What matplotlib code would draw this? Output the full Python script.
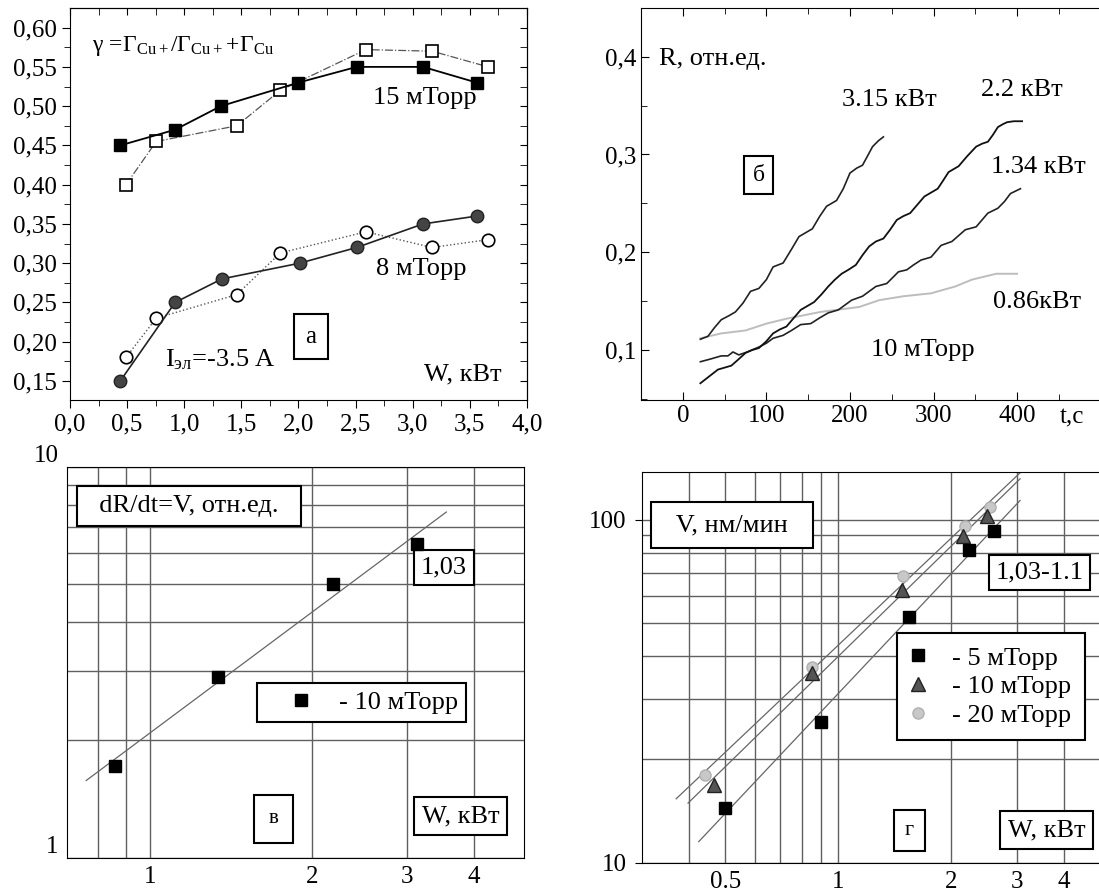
import numpy as np
import matplotlib
matplotlib.use("Agg")
import matplotlib.pyplot as plt
from matplotlib.ticker import FuncFormatter, MultipleLocator, FixedLocator, NullFormatter
from matplotlib.lines import Line2D

plt.rcParams['font.family'] = ['Liberation Serif', 'DejaVu Serif']
plt.rcParams['mathtext.fontset'] = 'custom'
plt.rcParams['mathtext.rm'] = 'Liberation Serif'
plt.rcParams['mathtext.it'] = 'Liberation Serif:italic'

# ---- panel a: gamma vs W ----
w15_fill = [0.44, 0.92, 1.32, 2.00, 2.51, 3.09, 3.56]
g15_fill = [0.450, 0.470, 0.500, 0.530, 0.550, 0.550, 0.530]
w15_open = [0.49, 0.755, 1.46, 1.84, 2.59, 3.17, 3.66]
g15_open = [0.400, 0.455, 0.475, 0.520, 0.572, 0.570, 0.550]
w8_fill = [0.44, 0.92, 1.33, 2.01, 2.51, 3.09, 3.56]
g8_fill = [0.150, 0.250, 0.280, 0.300, 0.320, 0.350, 0.360]
w8_open = [0.49, 0.755, 1.46, 1.84, 2.59, 3.17, 3.66]
g8_open = [0.180, 0.230, 0.260, 0.313, 0.340, 0.320, 0.330]

# ---- panel b: R(t) ----
t315 = [21, 30, 38, 46, 55, 63, 72, 81, 91, 100, 108, 120, 130, 139, 147, 155, 164, 172,
        184, 192, 200, 208, 215, 222, 227, 234, 240]
r315 = [0.111, 0.114, 0.123, 0.131, 0.135, 0.139, 0.148, 0.160, 0.163, 0.172, 0.185, 0.189,
        0.203, 0.216, 0.220, 0.224, 0.237, 0.247, 0.253, 0.265, 0.281, 0.286, 0.289, 0.300,
        0.308, 0.314, 0.318]
t22 = [21, 30, 42, 50, 58, 66, 75, 83, 91, 100, 108, 116, 124, 132, 141, 149, 157, 166, 174,
       182, 190, 198, 207, 215, 223, 231, 240, 248, 256, 264, 272, 280, 289, 297, 305, 312,
       318, 324, 330, 340, 351, 358, 365, 371, 377, 383, 388, 396, 406]
r22 = [0.066, 0.072, 0.080, 0.082, 0.084, 0.090, 0.097, 0.100, 0.102, 0.109, 0.117, 0.121,
       0.124, 0.132, 0.141, 0.145, 0.149, 0.157, 0.165, 0.172, 0.178, 0.182, 0.187, 0.197,
       0.206, 0.211, 0.214, 0.223, 0.233, 0.237, 0.240, 0.248, 0.257, 0.261, 0.265, 0.274,
       0.282, 0.285, 0.288, 0.298, 0.308, 0.311, 0.313, 0.320, 0.328, 0.331, 0.333, 0.334, 0.334]
t134 = [21, 34, 46, 54, 60, 67, 77, 91, 100, 108, 120, 130, 141, 153, 164, 174, 186, 194, 202,
        215, 223, 231, 244, 251, 258, 268, 276, 285, 297, 303, 309, 322, 330, 338, 351, 358,
        365, 377, 385, 392, 404]
r134 = [0.088, 0.091, 0.094, 0.094, 0.098, 0.095, 0.098, 0.103, 0.107, 0.112, 0.115, 0.120,
        0.126, 0.127, 0.133, 0.138, 0.141, 0.146, 0.151, 0.155, 0.160, 0.165, 0.168, 0.174,
        0.180, 0.182, 0.187, 0.192, 0.195, 0.201, 0.207, 0.211, 0.217, 0.223, 0.226, 0.233,
        0.240, 0.245, 0.252, 0.260, 0.265]
t086 = [21, 46, 75, 100, 124, 165, 211, 235, 264, 297, 326, 346, 375, 400]
r086 = [0.112, 0.117, 0.120, 0.127, 0.132, 0.139, 0.144, 0.151, 0.155, 0.158, 0.165, 0.172,
        0.178, 0.178]

# ---- panel v: dR/dt vs W, 10 mTorr ----
wv = [0.859, 1.336, 2.19, 3.13]
vv = [1.72, 2.89, 5.01, 6.33]
fit_v = [0.76, 3.55]

# ---- panel g: V vs W ----
w5 = [0.50, 0.90, 1.545, 2.23, 2.60]
v5 = [14.4, 25.8, 51.9, 81.8, 92.5]
w10 = [0.467, 0.854, 1.48, 2.15, 2.505]
v10 = [16.9, 35.7, 62.5, 89.4, 102.7]
w20 = [0.443, 0.854, 1.49, 2.18, 2.54]
v20 = [18.0, 37.3, 68.3, 95.6, 109.0]
fit_g = {'5': [0.425, 3.06], '10': [0.398, 3.06], '20': [0.37, 3.06]}


def box(pad):
    return dict(boxstyle=f'square,pad={pad}', fc='white', ec='black', lw=1.5)


comma = lambda d: FuncFormatter(lambda v, p: f'{v:.{d}f}'.replace('.', ','))
FS = 19

fig = plt.figure(figsize=(10.99, 8.94), dpi=100)

# ================= panel a =================
ax = fig.add_axes([0.0637, 0.5526, 0.4158, 0.4381])
ax.plot(w15_open, g15_open, ls='-.', color='#555555', lw=0.9, marker='s', ms=9,
        mfc='white', mec='black', mew=1.2)
ax.plot(w15_fill, g15_fill, ls='-', color='black', lw=1.3, marker='s', ms=9,
        mfc='black', mec='black')
ax.plot(w8_open, g8_open, ls=':', color='#555555', lw=1.0, marker='o', ms=9,
        mfc='white', mec='black', mew=1.2)
ax.plot(w8_fill, g8_fill, ls='-', color='#222222', lw=1.2, marker='o', ms=9,
        mfc='#444444', mec='#222222')
ax.set_xlim(0, 4)
ax.set_ylim(0.1258, 0.6246)
ax.xaxis.set_major_locator(MultipleLocator(0.5))
ax.xaxis.set_minor_locator(MultipleLocator(0.25))
ax.yaxis.set_major_locator(FixedLocator(np.arange(0.15, 0.601, 0.05)))
ax.yaxis.set_minor_locator(MultipleLocator(0.025))
ax.xaxis.set_major_formatter(comma(1))
ax.yaxis.set_major_formatter(comma(2))
ax.tick_params(which='both', direction='out', labelsize=18)
ax.tick_params(which='major', length=6)
ax.tick_params(which='minor', length=4)
secx = ax.secondary_xaxis('top')
secx.xaxis.set_major_locator(MultipleLocator(0.5))
secx.xaxis.set_minor_locator(MultipleLocator(0.25))
secx.tick_params(which='both', direction='in', labeltop=False, length=5)
secy = ax.secondary_yaxis('right')
secy.yaxis.set_major_locator(FixedLocator(np.arange(0.15, 0.601, 0.05)))
secy.yaxis.set_minor_locator(MultipleLocator(0.025))
secy.tick_params(which='both', direction='in', labelright=False, length=5)
ax.text(0.19, 0.576, r'$\mathrm{\gamma\ \!=\!\Gamma_{Cu+}/\Gamma_{Cu+}\!+\!\Gamma_{Cu}}$',
        fontsize=17, va='center')
ax.text(2.65, 0.51, '15 мТорр', fontsize=FS, va='center')
ax.text(2.68, 0.293, '8 мТорр', fontsize=FS, va='center')
ax.text(2.11, 0.2065, 'а', fontsize=18, ha='center', va='center', bbox=box(0.45))
ax.text(0.83, 0.177, r'$\mathrm{I_{эл}}$=-3.5 А', fontsize=19, va='center')
ax.text(3.1, 0.158, 'W, кВт', fontsize=FS, va='center')

# ================= panel b =================
ax = fig.add_axes([0.5833, 0.5526, 0.4167, 0.4381])
ax.plot(t086, r086, color='#bdbdbd', lw=1.4)
ax.plot(t134, r134, color='#222222', lw=1.2)
ax.plot(t22, r22, color='#111111', lw=1.3)
ax.plot(t315, r315, color='#222222', lw=1.2)
ax.set_xlim(-50, 498)
ax.set_ylim(0.0489, 0.4495)
ax.spines['right'].set_visible(False)
ax.set_xticks([0, 100, 200, 300, 400])
ax.xaxis.set_minor_locator(MultipleLocator(50))
ax.set_yticks([0.1, 0.2, 0.3, 0.4])
ax.yaxis.set_minor_locator(MultipleLocator(0.05))
ax.yaxis.set_major_formatter(comma(1))
ax.tick_params(which='both', direction='in', top=True, labelsize=18, length=6)
ax.tick_params(which='minor', length=4)
ax.text(451, -0.045, 't,c', fontsize=18, va='center',
        transform=ax.get_xaxis_transform())
ax.text(-28, 0.398, 'R, отн.ед.', fontsize=FS, va='center')
ax.text(190, 0.356, '3.15 кВт', fontsize=FS, va='center')
ax.text(357, 0.366, '2.2 кВт', fontsize=FS, va='center')
ax.text(369, 0.2875, '1.34 кВт', fontsize=FS, va='center')
ax.text(371, 0.149, '0.86кВт', fontsize=FS, va='center')
ax.text(225, 0.100, '10 мТорр', fontsize=FS, va='center')
ax.text(90.5, 0.279, 'б', fontsize=17, ha='center', va='center', bbox=box(0.35))

grid_kw = dict(color='#606060', lw=1.0)

# ================= panel v =================
ax = fig.add_axes([0.0610, 0.0406, 0.4158, 0.4374])
ax.set_xscale('log')
ax.set_yscale('log')
ax.set_xlim(0.7, 4.95)
ax.set_ylim(1, 10)
ax.set_xticks([1, 2, 3, 4])
ax.set_xticklabels(['1', '2', '3', '4'])
ax.set_xticks([0.8, 0.9], minor=True)
ax.set_yticks([1, 10])
ax.set_yticklabels(['1', '10'])
ax.set_yticks([2, 3, 4, 5, 6, 7, 8, 9], minor=True)
ax.xaxis.set_minor_formatter(NullFormatter())
ax.yaxis.set_minor_formatter(NullFormatter())
ax.tick_params(which='both', length=0, labelsize=18, pad=6)
for lab in ax.get_yticklabels():
    lab.set_verticalalignment('bottom')
ax.grid(True, which='both', **grid_kw)
ax.set_axisbelow(True)
k, b = np.polyfit(np.log10(wv), np.log10(vv), 1)
xs = np.array(fit_v)
ax.plot(xs, 10 ** b * xs ** k, color='#666666', lw=0.9)
ax.plot(wv, vv, ls='', marker='s', ms=9, color='black', zorder=5)
ax.text(0.267, 0.899, '  dR/dt=V, отн.ед.  ', fontsize=FS, ha='center', va='center',
        transform=ax.transAxes, bbox=box(0.35))
ax.text(0.825, 0.742, '1,03', fontsize=FS, ha='center', va='center',
        transform=ax.transAxes, bbox=box(0.25))
ax.text(0.451, 0.099, 'в', fontsize=15, ha='center', va='center',
        transform=ax.transAxes, bbox=box(0.7))
ax.text(0.861, 0.1066, 'W, кВт', fontsize=FS, ha='center', va='center',
        transform=ax.transAxes, bbox=box(0.3))
leg = ax.legend(handles=[Line2D([], [], ls='', marker='s', ms=9, color='black')],
                labels=['- 10 мТорр'], loc='upper left', bbox_to_anchor=(0.4158, 0.4468),
                borderaxespad=0, fontsize=FS, frameon=True, fancybox=False, framealpha=1,
                edgecolor='black', handletextpad=0.1, borderpad=0.3, handlelength=2.7)
leg.get_frame().set_linewidth(1.5)

# ================= panel g =================
ax = fig.add_axes([0.5842, 0.0350, 0.4158, 0.4374])
ax.set_xscale('log')
ax.set_yscale('log')
ax.set_xlim(0.3, 4.97)
ax.set_ylim(10, 138)
ax.spines['right'].set_visible(False)
ax.set_xticks([0.5, 1, 2, 3, 4])
ax.set_xticklabels(['0.5', '1', '2', '3', '4'])
ax.set_xticks([0.4, 0.6, 0.7, 0.8, 0.9], minor=True)
ax.set_yticks([10, 100])
ax.set_yticklabels(['10', '100'])
ax.set_yticks([20, 30, 40, 50, 60, 70, 80, 90], minor=True)
ax.xaxis.set_minor_formatter(NullFormatter())
ax.yaxis.set_minor_formatter(NullFormatter())
ax.tick_params(which='both', length=0, labelsize=18, pad=6)
ax.tick_params(axis='y', which='major', length=5)
ax.grid(True, which='both', **grid_kw)
ax.set_axisbelow(True)
for key, ws, vs in [('20', w20, v20), ('10', w10, v10), ('5', w5, v5)]:
    k, b = np.polyfit(np.log10(ws), np.log10(vs), 1)
    xs = np.array(fit_g[key])
    ax.plot(xs, 10 ** b * xs ** k, color='#666666', lw=0.9)
h20, = ax.plot(w20, v20, ls='', marker='o', ms=8, mfc='#c8c8c8', mec='#b0b0b0')
h10, = ax.plot(w10, v10, ls='', marker='^', ms=10, mfc='#555555', mec='#222222')
h5, = ax.plot(w5, v5, ls='', marker='s', ms=9, color='black')
ax.text(0.197, 0.863, '  V, нм/мин  ', fontsize=FS, ha='center', va='center',
        transform=ax.transAxes, bbox=box(0.45))
ax.text(0.870, 0.742, '1,03-1.1', fontsize=FS, ha='center', va='center',
        transform=ax.transAxes, bbox=box(0.25))
ax.text(0.585, 0.083, 'г', fontsize=16, ha='center', va='center',
        transform=ax.transAxes, bbox=box(0.5))
ax.text(0.885, 0.083, 'W, кВт', fontsize=FS, ha='center', va='center',
        transform=ax.transAxes, bbox=box(0.3))
leg = ax.legend(handles=[h5, h10, h20], labels=['- 5 мТорр', '- 10 мТорр', '- 20 мТорр'],
                loc='upper left', bbox_to_anchor=(0.558, 0.5875), borderaxespad=0,
                fontsize=FS, frameon=True, fancybox=False, framealpha=1, edgecolor='black',
                handletextpad=1.0, borderpad=0.5, labelspacing=0.2, handlelength=0.6)
leg.get_frame().set_linewidth(1.5)

fig.savefig('out.png', dpi=100)
